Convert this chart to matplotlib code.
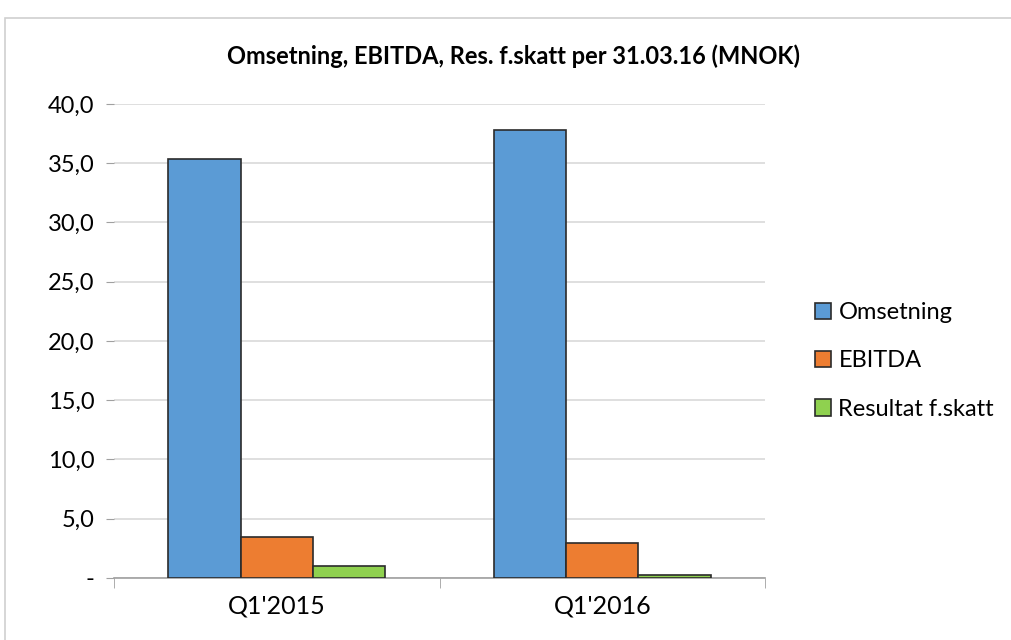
import matplotlib.pyplot as plt
import numpy as np
from matplotlib.patches import Rectangle
from matplotlib.ticker import FuncFormatter

plt.rcParams['font.family'] = ['Lato', 'DejaVu Sans']

categories = ["Q1'2015", "Q1'2016"]
omsetning = [35.4, 37.8]
ebitda = [3.5, 2.95]
resultat = [1.0, 0.25]
series_names = ['Omsetning', 'EBITDA', 'Resultat f.skatt']
colors = ['#5b9bd5', '#ed7d31', '#8fd14f']

fig = plt.figure(figsize=(10.11, 6.4), dpi=100)
ax = fig.add_axes([0.1128, 0.0969, 0.6439, 0.7406])

# outer chart frame
fig.patches.append(Rectangle((0.005, -0.01), 1.2, 0.982, transform=fig.transFigure,
                             fill=False, edgecolor='#d0d0d0', linewidth=1.2))

x = np.arange(len(categories))
w = 0.222
for i, (vals, name) in enumerate(zip([omsetning, ebitda, resultat], series_names)):
    ax.bar(x + (i - 1) * w, vals, width=w, color=colors[i], edgecolor='#2b2b2b',
           linewidth=1.2, label=name, zorder=3)

ax.set_xlim(-0.5, 1.5)
ax.set_ylim(0, 40)
ax.set_yticks(np.arange(0, 41, 5))
ax.yaxis.set_major_formatter(FuncFormatter(lambda v, p: '-' if v == 0 else f'{v:.1f}'.replace('.', ',')))
ax.grid(axis='y', color='#d9d9d9', linewidth=1.2, zorder=0)
ax.set_xticks(x)
ax.set_xticklabels(categories)
ax.set_xticks([-0.5, 0.5, 1.5], minor=True)
ax.tick_params(axis='x', which='major', length=0, labelsize=18, pad=12)
ax.tick_params(axis='x', which='minor', length=7, color='#a0a0a0')
ax.tick_params(axis='y', length=6, color='#a0a0a0', labelsize=17, pad=8)
for s in ['top', 'right', 'left']:
    ax.spines[s].set_visible(False)
ax.spines['bottom'].set_color('#a0a0a0')
ax.spines['bottom'].set_linewidth(1.2)

fig.text(0.508, 0.912, 'Omsetning, EBITDA, Res. f.skatt per 31.03.16 (MNOK)', fontsize=17,
         fontweight='bold', ha='center', va='center')

leg = fig.legend(loc='center left', bbox_to_anchor=(0.785, 0.436), frameon=False,
                 fontsize=17, handlelength=0.7, handleheight=0.7, handletextpad=0.3,
                 labelspacing=1.15)

fig.savefig('out.png', dpi=100)
